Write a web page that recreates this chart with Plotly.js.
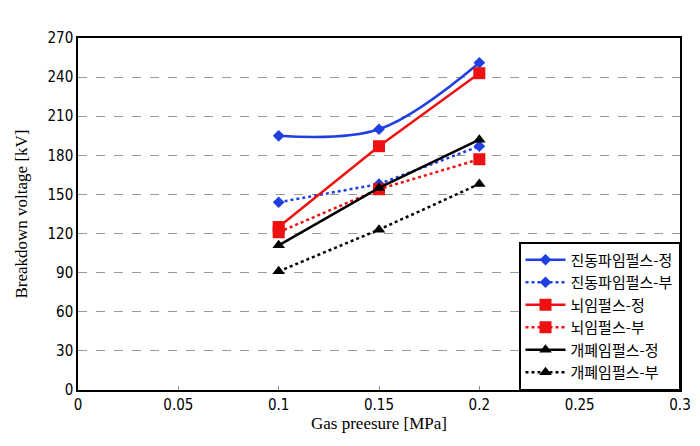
<!DOCTYPE html>
<html><head><meta charset="utf-8">
<script src="https://cdn.plot.ly/plotly-3.0.1.min.js"></script>
<style>body{margin:0;background:#fff}#c{width:700px;height:446px}</style>
</head><body><div id="c"></div>
<script>
const pressure = [0.1, 0.15, 0.2];
const names = ["진동파임펄스-정","진동파임펄스-부","뇌임펄스-정","뇌임펄스-부","개폐임펄스-정","개폐임펄스-부"];
const oscPos = [195, 200, 251];
const oscNeg = [144, 158, 187];
const lightPos = [125, 187, 243];
const lightNeg = [121, 154, 177];
const switchPos = [111, 155, 192];
const switchNeg = [91, 123, 158];
const yTicks = [0,30,60,90,120,150,180,210,240,270];
const xTicks = [0,0.05,0.1,0.15,0.2,0.25,0.3];

const series = [oscPos, oscNeg, lightPos, lightNeg, switchPos, switchNeg];
const colors = ["#1f3fe0","#1f3fe0","#ee1111","#ee1111","#000000","#000000"];
const symbols = ["diamond","diamond","square","square","triangle-up","triangle-up"];
const sizes = [9,9,12,12,11,11];
const dashes = ["solid","dot","solid","dot","solid","dot"];
const shapes = ["spline","linear","linear","linear","linear","linear"];

const traces = series.map((v,i)=>({
  x: pressure, y: v, name: names[i], type:"scatter", mode:"lines+markers",
  line:{color:colors[i], width:2.5, dash:dashes[i], shape:shapes[i]},
  marker:{color:colors[i], symbol:symbols[i], size:sizes[i]}
}));

const layout = {
  width:700, height:446,
  margin:{l:78, r:20, t:38, b:56},
  paper_bgcolor:"#fff", plot_bgcolor:"#fff",
  showlegend:true,
  legend:{x:1, xanchor:"right", y:0, yanchor:"bottom", bgcolor:"#fff", bordercolor:"#000", borderwidth:1.5,
    font:{family:"Noto Sans CJK KR", size:15, color:"#000"}, tracegroupgap:0, itemwidth:40},
  xaxis:{range:[0,0.3], tickvals:xTicks, ticktext:xTicks.map(String), showgrid:false, zeroline:false,
    showline:true, linecolor:"#000", linewidth:1.5, mirror:true, ticks:"inside", ticklen:4, tickcolor:"#888",
    tickfont:{family:"DejaVu Sans Condensed", size:15, color:"#000"},
    title:{text:"Gas preesure [MPa]", font:{family:"Liberation Serif", size:17, color:"#000"}, standoff:4}},
  yaxis:{range:[0,270], tickvals:yTicks, showgrid:true, gridcolor:"#999", griddash:"dash", gridwidth:1, zeroline:false,
    showline:true, linecolor:"#000", linewidth:1.5, mirror:true, ticks:"",
    tickfont:{family:"DejaVu Sans Condensed", size:15, color:"#000"},
    title:{text:"Breakdown voltage [kV]", font:{family:"Liberation Serif", size:17, color:"#000"}, standoff:16}}
};
Plotly.newPlot("c", traces, layout, {displayModeBar:false});
</script></body></html>
